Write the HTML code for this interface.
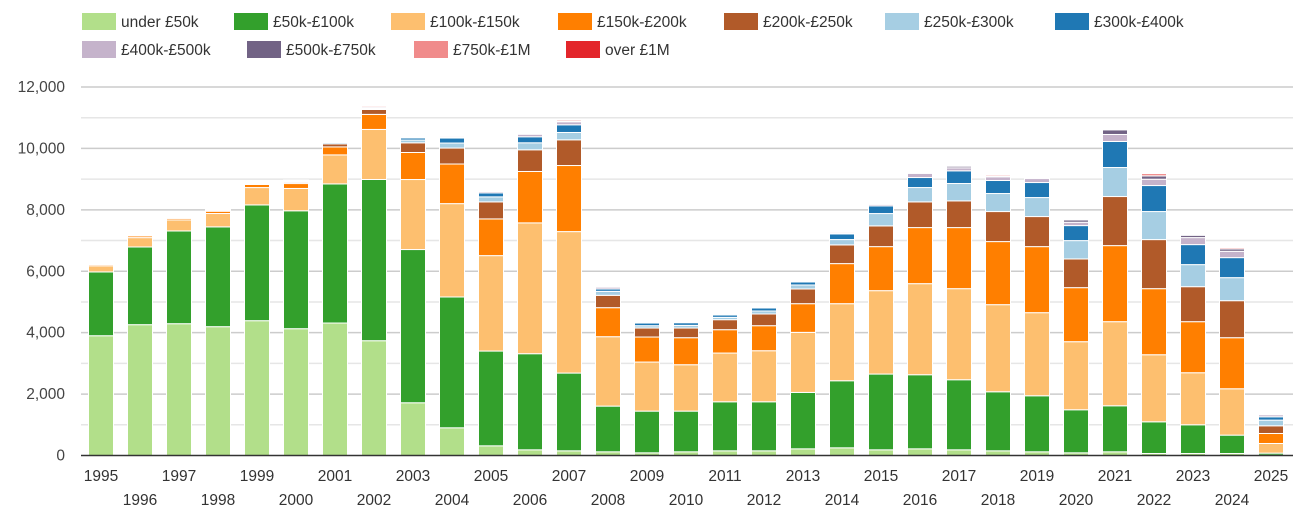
<!DOCTYPE html>
<html><head><meta charset="utf-8"><style>
body{margin:0;background:#fff;}
svg{display:block;font-family:"Liberation Sans",Arial,sans-serif;}
</style></head><body>
<svg id="chart" width="1305" height="510" viewBox="0 0 1305 510">
<g id="legend"></g>
<g id="grid"></g>
<g id="yaxis"></g>
<g id="bars"></g>
<g id="xaxis"></g>
</svg>
<script>
const years = [1995,1996,1997,1998,1999,2000,2001,2002,2003,2004,2005,2006,2007,2008,2009,2010,2011,2012,2013,2014,2015,2016,2017,2018,2019,2020,2021,2022,2023,2024,2025];
const seriesNames = ["under £50k","£50k-£100k","£100k-£150k","£150k-£200k","£200k-£250k","£250k-£300k","£300k-£400k","£400k-£500k","£500k-£750k","£750k-£1M","over £1M"];
const under50 = [3900,4260,4292,4195,4390,4129,4314,3738,1717,902,315,185,152,120,87,120,152,152,217,250,185,217,185,152,120,87,120,65,65,65,10];
const k50_100 = [2077,2530,3020,3250,3770,3840,4530,5250,4990,4260,3086,3130,2532,1488,1358,1325,1597,1597,1837,2184,2467,2413,2282,1923,1825,1402,1499,1032,935,598,67];
const k100_150 = [200,305,360,435,565,727,945,1630,2280,3040,3108,4260,4607,2261,1598,1511,1587,1663,1956,2510,2716,2966,2966,2837,2706,2217,2739,2184,1695,1510,314];
const k150_200 = [40,55,50,75,100,160,260,490,880,1290,1195,1674,2152,945,815,880,761,815,934,1305,1434,1826,1989,2054,2151,1760,2477,2152,1663,1663,326];
const k200_250 = [30,20,35,35,30,40,100,160,315,520,555,706,837,402,293,315,326,381,479,609,675,837,870,978,979,935,1598,1598,1140,1206,250];
const k250_300 = [10,5,5,10,20,15,50,30,90,163,163,228,239,130,76,87,76,98,130,174,402,467,565,587,619,597,945,913,718,750,185];
const k300_400 = [5,3,5,5,10,10,10,10,70,163,130,196,250,76,87,87,76,98,98,185,250,326,413,424,489,489,848,847,652,652,108];
const k400_500 = [5,3,5,10,20,5,20,40,30,30,50,87,100,65,25,20,20,20,20,15,50,140,98,120,130,109,228,206,228,206,76];
const k500_750 = [3,2,3,5,10,5,10,10,10,10,10,10,20,10,5,5,5,5,5,5,20,10,54,33,33,76,152,109,76,76,5];
const k750_1m = [20,10,15,15,20,10,20,40,30,40,20,30,50,30,20,20,15,20,30,40,30,30,30,50,30,20,33,87,33,54,10];
const over1m = [10,0,5,10,5,30,5,10,5,5,30,5,10,5,5,5,5,5,5,5,5,5,5,5,5,20,5,5,5,5,0];
const yTicks = [0,2000,4000,6000,8000,10000,12000];
const yTickLabels = ["0","2,000","4,000","6,000","8,000","10,000","12,000"];

const series = [under50,k50_100,k100_150,k150_200,k200_250,k250_300,k300_400,k400_500,k500_750,k750_1m,over1m];
const colors = ["#b2df8a","#33a02c","#fdbf6f","#ff7f00","#b15a29","#a6cee3","#1f78b4","#c5b3cb","#726385","#f08b8b","#e3262b"];
const NS="http://www.w3.org/2000/svg";
const x0=101, dx=39, bw=25, yBase=455.5, yTop=87, yMax=12000;
const xs=i=>x0+i*dx;
const ys=v=>yBase-(v/yMax)*(yBase-yTop);
function mk(tag,attrs,parent){const e=document.createElementNS(NS,tag);for(const k in attrs)e.setAttribute(k,attrs[k]);parent.appendChild(e);return e;}

const grid=document.getElementById('grid');
for(let v=1000;v<=12000;v+=1000){
  const l=mk('line',{x1:81,x2:1293,y1:ys(v),y2:ys(v),stroke:v%2000===0?'#cccccc':'#e6e6e6','stroke-width':1.5},grid);
  
  
}
const yax=document.getElementById('yaxis');
yTicks.forEach((v,i)=>{
  const t=mk('text',{x:65,y:ys(v)+5,'text-anchor':'end','font-size':15.5,fill:'#444'},yax);
  t.textContent=yTickLabels[i];
  
  
});
const bars=document.getElementById('bars');
years.forEach((yr,i)=>{
  let cum=0;
  series.forEach((s,j)=>{
    const v=s[i]; if(v<=0) return;
    const top=ys(cum+v), bot=ys(cum);
    const r=mk('rect',{x:xs(i)-bw/2,y:top,width:bw,height:Math.max(bot-top,0.5),fill:colors[j],stroke:'#fff','stroke-width':1},bars);
    
    
    cum+=v;
  });
});
const xax=document.getElementById('xaxis');
const ax=mk('line',{x1:81,x2:1293,y1:yBase,y2:yBase,stroke:'#333','stroke-width':1.5},xax);


years.forEach((yr,i)=>{
  const t=mk('text',{x:xs(i),y:(i%2===0?481:505),'text-anchor':'middle','font-size':15.5,fill:'#333'},xax);
  t.textContent=yr;
  
  
});
const leg=document.getElementById('legend');
const legPos=[[82,13],[234,13],[391,13],[558,13],[724,13],[885,13],[1055,13],[82,41],[247,41],[414,41],[566,41]];
seriesNames.forEach((n,j)=>{
  const g=mk('g',{},leg);
  
  
  mk('rect',{x:legPos[j][0],y:legPos[j][1],width:34,height:17,fill:colors[j]},g);
  const t=mk('text',{x:legPos[j][0]+39,y:legPos[j][1]+14,'font-size':15.5,fill:'#333'},g);
  t.textContent=n;
});
</script>
</body></html>
